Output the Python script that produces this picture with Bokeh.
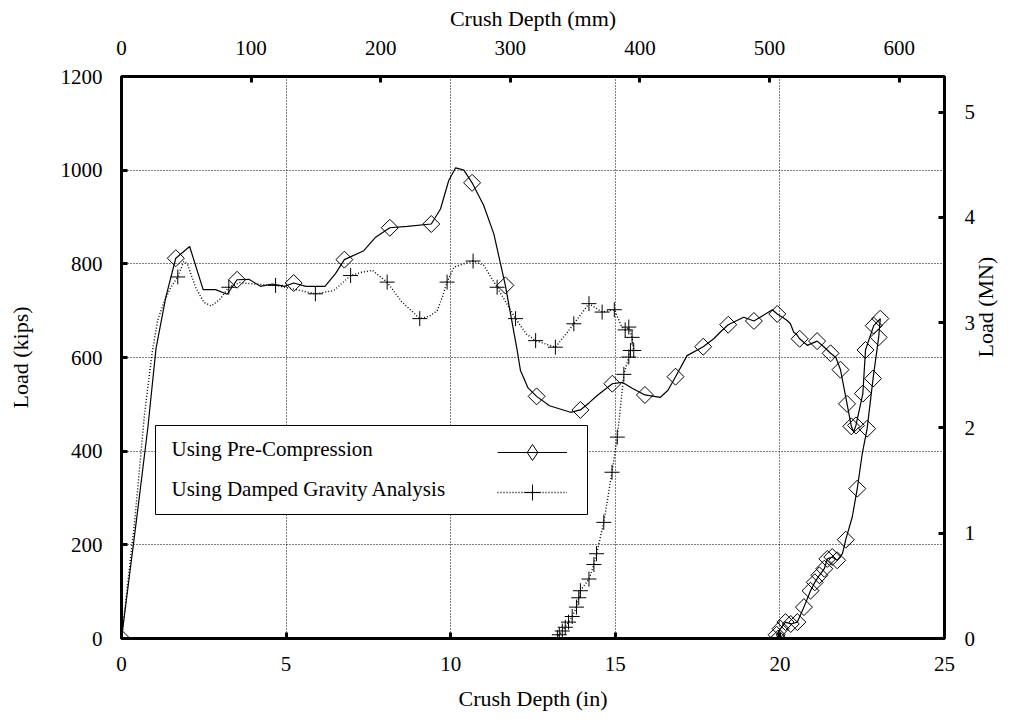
import math
from bokeh.plotting import figure
from bokeh.models import (Range1d, LinearAxis, SingleIntervalTicker, Legend,
                          LegendItem, ColumnDataSource, Label, BoxAnnotation)
from bokeh.embed import file_html
from bokeh.resources import INLINE

# ---------------- data (crush depth in inches, load in kips) ----------------
pc_line_in = [0.0, 0.45, 0.8, 1.05, 1.35, 1.65, 2.07, 2.48, 2.86, 3.21, 3.51, 3.87,
              4.22, 4.58, 4.95, 5.23, 5.6, 6.18, 6.5, 6.77, 7.36, 7.72, 8.15, 8.68,
              9.41, 9.69, 9.94, 10.15, 10.4, 10.65, 11.0, 11.31, 11.66, 12.02, 12.12,
              12.35, 12.61, 13.0, 13.64, 13.94, 14.2, 14.45, 14.91, 15.21, 15.5, 15.9,
              16.37, 16.6, 16.83, 17.18, 17.67, 17.99, 18.2, 18.43, 18.9, 19.21, 19.5,
              19.77, 19.92, 20.1, 20.22, 20.32, 20.42, 20.5, 20.6, 20.83, 21.13, 21.35,
              21.54, 21.7, 21.84, 22.04, 22.17, 22.24, 22.31, 22.52, 22.6, 22.85, 23.05,
              23.0, 22.83, 22.65, 22.5, 22.35, 22.2, 22.0, 21.9, 21.74, 21.59, 21.44,
              21.35, 21.2, 21.06, 20.93, 20.73, 20.53, 20.33, 20.17, 20.02, 19.9, 19.95]
pc_line_kips = [0, 250, 450, 620, 730, 812, 837, 745, 745, 735, 766, 767,
                752, 757, 752, 759, 752, 752, 779, 809, 828, 857, 877, 880,
                885, 917, 978, 1005, 1000, 973, 925, 864, 754, 615, 572,
                535, 517, 497, 483, 488, 503, 519, 544, 547, 535, 520,
                515, 530, 559, 604, 623, 640, 655, 670, 686, 678, 690,
                702, 693, 685, 679, 672, 654, 650, 640, 626, 635, 622,
                609, 600, 574, 501, 453, 441, 455, 523, 616, 668, 683,
                643, 555, 448, 394, 320, 260, 211, 181, 167, 174, 170,
                149, 135, 120, 102, 67, 35, 31, 35, 21, 8, 0]

pc_mark_in = [0.0, 1.65, 3.51, 5.23, 6.77, 8.15, 9.41, 10.65, 11.66, 12.61, 13.94,
              14.91, 15.9, 16.83, 17.67, 18.43, 19.21, 19.92, 20.6, 21.13, 21.54,
              21.84, 22.04, 22.17, 22.31, 22.52, 22.6, 22.85, 23.05, 23.0, 22.83,
              22.65, 22.35, 22.0, 21.74, 21.59, 21.44, 21.35, 21.2, 21.06, 20.93,
              20.73, 20.53, 20.33, 20.17, 20.02, 19.9, 19.95]
pc_mark_kips = [0, 812, 766, 759, 809, 877, 885, 973, 754, 517, 488,
                544, 520, 559, 623, 670, 678, 693, 640, 635, 609,
                574, 501, 453, 455, 523, 616, 668, 683, 643, 555,
                448, 320, 211, 167, 174, 170, 149, 135, 120, 102,
                67, 35, 31, 35, 21, 8, 0]

dg_line_in = [0.0, 0.4, 0.7, 0.93, 1.1, 1.3, 1.5, 1.71, 1.89, 2.0, 2.25, 2.5, 2.73,
              3.0, 3.26, 3.6, 4.0, 4.68, 5.3, 5.89, 6.45, 6.96, 7.3, 7.62, 8.07, 8.5,
              9.06, 9.35, 9.59, 9.75, 9.89, 10.1, 10.4, 10.68, 11.0, 11.41, 11.97,
              12.3, 12.58, 13.18, 13.5, 13.74, 14.2, 14.6, 14.97, 15.2, 15.3, 15.41,
              15.51, 15.56, 15.46, 15.41, 15.26, 15.15, 15.06, 14.9, 14.65, 14.43,
              14.35, 14.2, 13.94, 13.89, 13.82, 13.69, 13.58, 13.48, 13.39, 13.3,
              13.24, 13.25]
dg_line_kips = [0, 250, 480, 610, 680, 720, 750, 772, 805, 800, 750, 718, 710,
                725, 750, 760, 757, 754, 745, 736, 743, 775, 782, 786, 761, 720,
                683, 688, 700, 730, 761, 793, 800, 806, 797, 750, 683,
                650, 636, 622, 650, 672, 715, 697, 702, 665, 659, 665,
                643, 615, 615, 601, 564, 490, 430, 355, 248, 181,
                158, 127, 102, 87, 67, 47, 35, 24, 16, 8,
                2, 0]

dg_mark_in = [1.71, 3.26, 4.68, 5.89, 6.96, 8.07, 9.06, 9.89, 10.68, 11.41, 11.97,
              12.58, 13.18, 13.74, 14.2, 14.6, 14.97, 15.3, 15.41, 15.51, 15.56,
              15.46, 15.41, 15.26, 15.06, 14.9, 14.65, 14.43, 14.35, 14.2, 13.94,
              13.89, 13.82, 13.69, 13.58, 13.48, 13.39, 13.3, 13.24]
dg_mark_kips = [772, 750, 754, 736, 775, 761, 683, 761, 806, 750, 683,
                636, 622, 672, 715, 697, 702, 659, 665, 643, 615,
                615, 601, 564, 430, 355, 248, 181, 158, 127, 102,
                87, 67, 47, 35, 24, 16, 8, 2]

series_labels = ["Using Pre-Compression", "Using Damped Gravity Analysis"]

x_max_in = 25
y_max_kips = 1200
MM_PER_IN = 25.4
MN_PER_KIP = 0.0044482216

FONT = "Liberation Serif"

W, H = 1014, 716
FL, FR, FT, FB = 121, 70, 76, 78          # borders around the plotting frame
FW, FH = W - FL - FR, H - FT - FB          # frame size in pixels
px_in = x_max_in / FW                      # inches per pixel
px_kip = y_max_kips / FH                   # kips per pixel

p = figure(width=W, height=H,
           x_range=Range1d(0, x_max_in), y_range=Range1d(0, y_max_kips),
           output_backend="svg", toolbar_location=None,
           min_border_left=FL, min_border_right=FR,
           min_border_top=FT, min_border_bottom=FB,
           background_fill_color="white", border_fill_color="white")

p.extra_x_ranges = {"mm": Range1d(0, x_max_in * MM_PER_IN)}
p.extra_y_ranges = {"MN": Range1d(0, y_max_kips * MN_PER_KIP)}

bottom_axis = p.below[0]
left_axis = p.left[0]
bottom_axis.ticker = SingleIntervalTicker(interval=5)
left_axis.ticker = SingleIntervalTicker(interval=200)
bottom_axis.axis_label = "Crush Depth (in)"
left_axis.axis_label = "Load (kips)"

top_axis = LinearAxis(x_range_name="mm", ticker=SingleIntervalTicker(interval=100),
                      axis_label="Crush Depth (mm)")
right_axis = LinearAxis(y_range_name="MN", ticker=SingleIntervalTicker(interval=1),
                        axis_label="Load (MN)")
p.add_layout(top_axis, "above")
p.add_layout(right_axis, "right")

for ax in [bottom_axis, left_axis, top_axis, right_axis]:
    ax.axis_line_color = None
    ax.major_tick_in = 6
    ax.major_tick_out = 0
    ax.major_tick_line_width = 3
    ax.major_tick_line_color = "black"
    ax.minor_tick_line_color = None
    ax.major_label_text_font = FONT
    ax.major_label_text_font_size = "21px"
    ax.major_label_text_color = "black"
    ax.axis_label_text_font = FONT
    ax.axis_label_text_font_size = "22px"
    ax.axis_label_text_font_style = "normal"
    ax.axis_label_text_color = "black"

left_axis.major_label_standoff = 15
left_axis.axis_label_standoff = 25
right_axis.major_label_standoff = 16
right_axis.axis_label_standoff = 7
right_axis.axis_label_text_line_height = 1.0
right_axis.axis_label_orientation = math.pi / 2
bottom_axis.major_label_standoff = 14
bottom_axis.axis_label_standoff = 12
top_axis.major_label_standoff = 18
top_axis.axis_label_standoff = 7

p.outline_line_color = "black"
p.outline_line_width = 3

for g in [p.xgrid[0], p.ygrid[0]]:
    g.grid_line_color = "black"
    g.grid_line_width = 1
    g.grid_line_dash = "1 2"
p.ygrid[0].ticker = SingleIntervalTicker(interval=200)
p.xgrid[0].ticker = SingleIntervalTicker(interval=5)

pc_line_src = ColumnDataSource(dict(x=pc_line_in, y=pc_line_kips))
pc_mark_src = ColumnDataSource(dict(x=pc_mark_in, y=pc_mark_kips))
dg_line_src = ColumnDataSource(dict(x=dg_line_in, y=dg_line_kips))
dg_mark_src = ColumnDataSource(dict(x=dg_mark_in, y=dg_mark_kips))

pc_l = p.line("x", "y", source=pc_line_src, line_color="black", line_width=1.2)
pc_m = p.scatter("x", "y", source=pc_mark_src, marker="square", size=12,
                 angle=math.pi / 4, fill_color=None, line_color="black", line_width=1)
dg_l = p.line("x", "y", source=dg_line_src, line_color="black", line_width=1.4,
              line_dash="1 2")
dg_m = p.scatter("x", "y", source=dg_mark_src, marker="cross", size=15,
                 line_color="black", line_width=1)

# hidden renderer used only to draw a diamond-shaped key in the legend
pc_key = p.scatter("x", "y", source=pc_mark_src, marker="diamond", size=18,
                   fill_color=None, line_color="black", line_width=1, visible=False)

# ---- gnuplot-style key: framed box, text on the left, sample on the right ----
box_l, box_r, box_t, box_b = 34, 466, 213, 124      # px from frame bottom-left
p.add_layout(BoxAnnotation(left=box_l * px_in, right=box_r * px_in,
                           bottom=box_b * px_kip, top=box_t * px_kip,
                           fill_color="white", fill_alpha=1,
                           line_color="black", line_width=1, line_alpha=1))
row_y = [190, 150]                                   # px from frame bottom
for txt, ry in zip(series_labels, row_y):
    p.add_layout(Label(x=50 * px_in, y=ry * px_kip, text=txt,
                       text_align="left", text_baseline="middle",
                       text_font=FONT, text_font_size="21px", text_color="black"))

legend = Legend(items=[
    LegendItem(label=" ", renderers=[pc_l, pc_key]),
    LegendItem(label=" ", renderers=[dg_l, dg_m]),
], location=(376, 126))
legend.label_text_font_size = "1px"
legend.glyph_width = 70
legend.glyph_height = 40
legend.label_height = 40
legend.label_width = 0
legend.label_standoff = 0
legend.spacing = 0
legend.padding = 4
legend.margin = 0
legend.border_line_color = None
legend.background_fill_alpha = 0
legend.inactive_fill_alpha = 0
p.add_layout(legend, "center")

open("out.html", "w").write(file_html(p, INLINE))
